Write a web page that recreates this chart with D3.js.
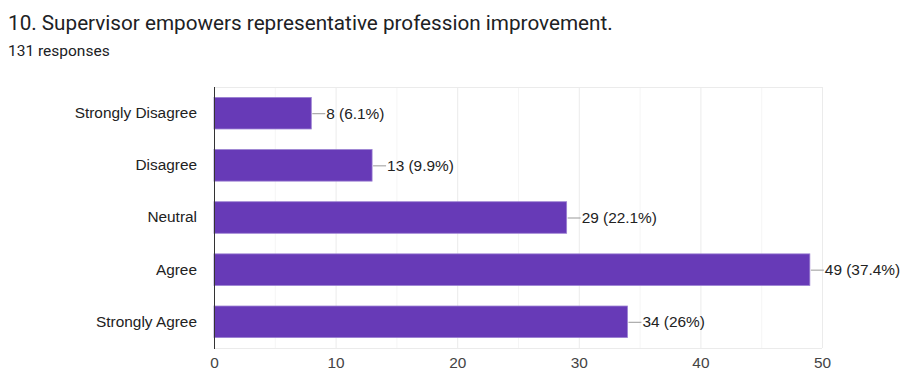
<!DOCTYPE html>
<html>
<head>
<meta charset="utf-8">
<script src="https://cdn.jsdelivr.net/npm/d3@7"></script>
<style>
  html, body { margin: 0; padding: 0; background: #fff; }
  svg { display: block; }
</style>
</head>
<body>
<svg id="chart" width="902" height="370"></svg>
<script>
const categories = ["Strongly Disagree", "Disagree", "Neutral", "Agree", "Strongly Agree"];
const counts = [8, 13, 29, 49, 34];
const percentLabels = ["6.1%", "9.9%", "22.1%", "37.4%", "26%"];
const xTicks = [0, 10, 20, 30, 40, 50];
const minorTicks = [5, 15, 25, 35, 45];

const labelFont = "'Liberation Sans', Arial, sans-serif";
const labelSize = 15.4;
const headFont = "Roboto, 'Noto Sans', sans-serif";

const svg = d3.select("#chart");
const plotLeft = 214, plotRight = 822, plotTop = 87, plotBottom = 348;

svg.append("text")
  .attr("x", 8).attr("y", 30)
  .attr("font-family", headFont)
  .attr("font-size", 20.7)
  .attr("fill", "#202124")
  .text("10. Supervisor empowers representative profession improvement.");

svg.append("text")
  .attr("x", 8).attr("y", 56)
  .attr("font-family", headFont)
  .attr("font-size", 15.5)
  .attr("fill", "#202124")
  .text("131 responses");

const x = d3.scaleLinear().domain([0, 50]).range([plotLeft, plotRight]);
const y = d3.scaleBand().domain(categories).range([plotTop, plotBottom]).paddingInner(0.395).paddingOuter(0.2);

const g = svg.append("g");

// minor gridlines
g.selectAll("line.minor").data(minorTicks).join("line")
  .attr("class", "minor")
  .attr("x1", d => x(d) + 0.5).attr("x2", d => x(d) + 0.5)
  .attr("y1", plotTop).attr("y2", plotBottom)
  .attr("stroke", "#f5f5f5").attr("stroke-width", 1);

// major gridlines
g.selectAll("line.major").data(xTicks.slice(1)).join("line")
  .attr("class", "major")
  .attr("x1", d => x(d) + 0.5).attr("x2", d => x(d) + 0.5)
  .attr("y1", plotTop).attr("y2", plotBottom)
  .attr("stroke", "#ebebeb").attr("stroke-width", 1);

// top and bottom borders
g.append("line")
  .attr("x1", plotLeft).attr("x2", plotRight)
  .attr("y1", plotTop + 0.5).attr("y2", plotTop + 0.5)
  .attr("stroke", "#ebebeb");
g.append("line")
  .attr("x1", plotLeft).attr("x2", plotRight)
  .attr("y1", plotBottom + 0.5).attr("y2", plotBottom + 0.5)
  .attr("stroke", "#ebebeb");

// bars
g.selectAll("rect.bar").data(categories).join("rect")
  .attr("class", "bar")
  .attr("x", x(0))
  .attr("y", d => y(d))
  .attr("width", (d, i) => x(counts[i]) - x(0))
  .attr("height", y.bandwidth())
  .attr("fill", "#673ab7")
  .attr("stroke", "#9a7fd1")
  .attr("stroke-width", 0.8);

// leader lines and value labels
g.selectAll("line.leader").data(categories).join("line")
  .attr("class", "leader")
  .attr("x1", (d, i) => x(counts[i]) + 1)
  .attr("x2", (d, i) => x(counts[i]) + 14)
  .attr("y1", d => y(d) + y.bandwidth() / 2 + 0.5)
  .attr("y2", d => y(d) + y.bandwidth() / 2 + 0.5)
  .attr("stroke", "#999").attr("stroke-width", 1);

g.selectAll("text.value").data(categories).join("text")
  .attr("class", "value")
  .attr("x", (d, i) => x(counts[i]) + 15)
  .attr("y", d => y(d) + y.bandwidth() / 2)
  .attr("dy", "0.36em")
  .attr("font-family", labelFont)
  .attr("font-size", labelSize)
  .attr("fill", "#222")
  .text((d, i) => `${counts[i]} (${percentLabels[i]})`);

// category axis
const yAxis = d3.axisLeft(y).tickSize(0).tickPadding(17);
const ya = svg.append("g").attr("transform", `translate(${plotLeft},0)`).call(yAxis);
ya.select(".domain").remove();
ya.selectAll("text")
  .attr("font-family", labelFont)
  .attr("font-size", labelSize)
  .attr("fill", "#222");

// value axis labels
const xAxis = d3.axisBottom(x).tickValues(xTicks).tickSize(0).tickPadding(9);
const xa = svg.append("g").attr("transform", `translate(0,${plotBottom})`).call(xAxis);
xa.select(".domain").remove();
xa.selectAll("text")
  .attr("font-family", labelFont)
  .attr("font-size", labelSize)
  .attr("fill", "#444");

// baseline
svg.append("line")
  .attr("x1", x(0) + 0.5).attr("x2", x(0) + 0.5)
  .attr("y1", plotTop).attr("y2", plotBottom + 1)
  .attr("stroke", "#333").attr("stroke-width", 1);
</script>
</body>
</html>
